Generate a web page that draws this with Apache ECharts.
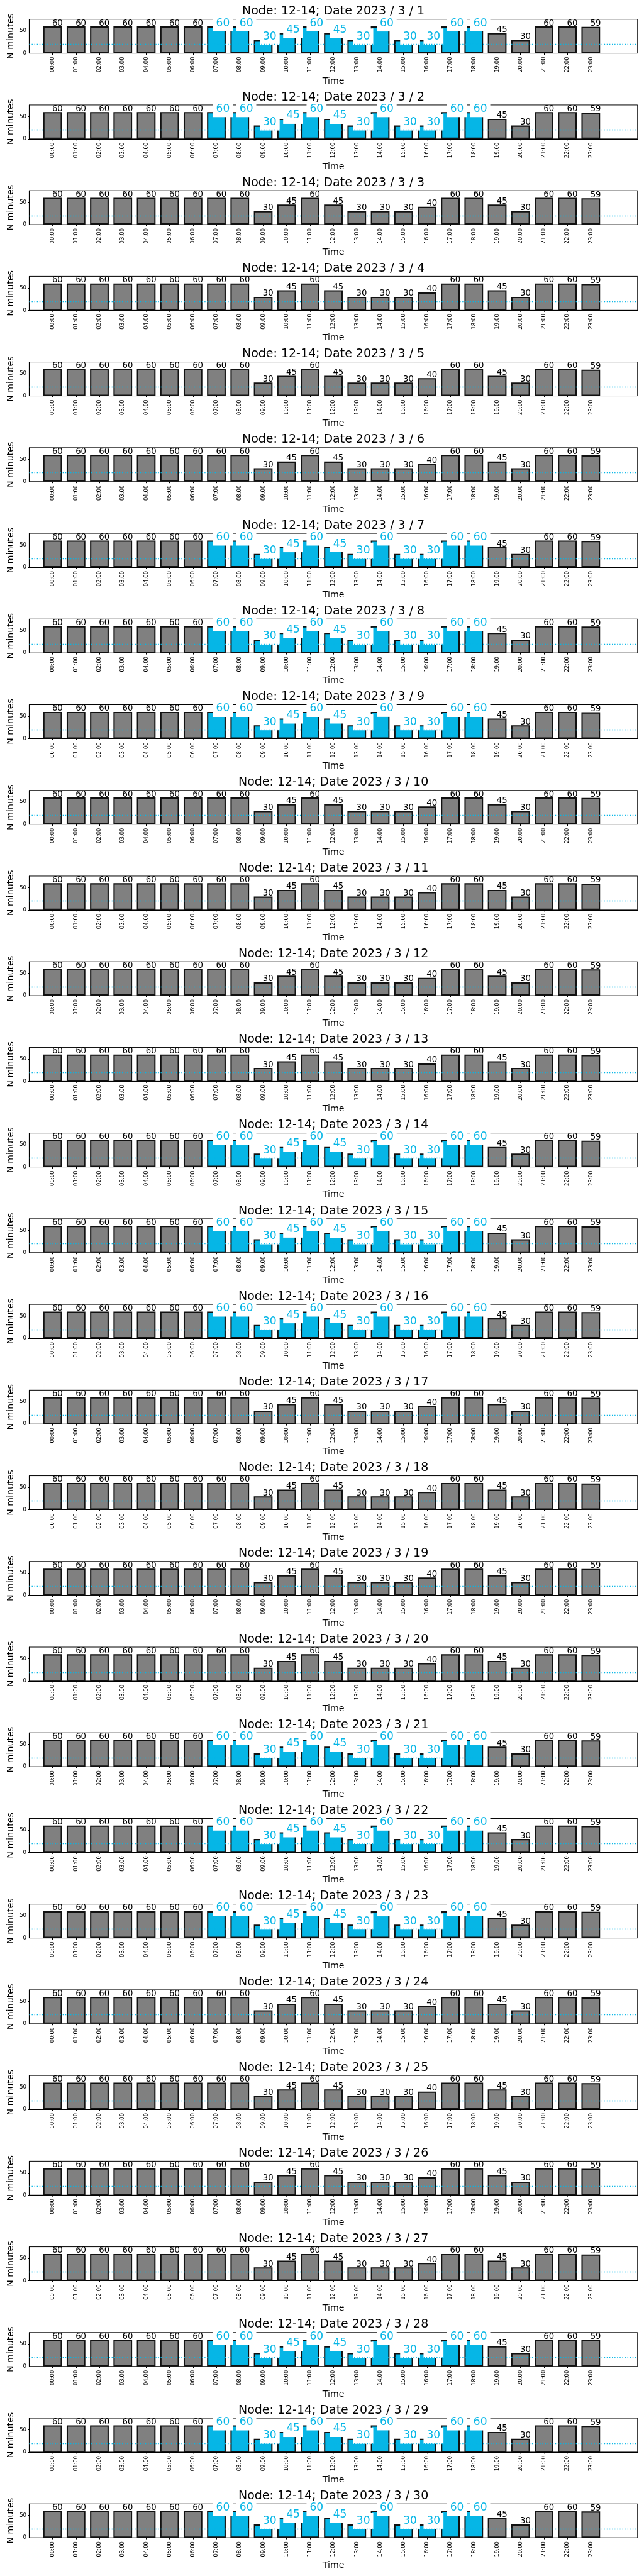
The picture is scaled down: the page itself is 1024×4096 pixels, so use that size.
<!DOCTYPE html>
<html><head><meta charset="utf-8">
<script src="https://cdn.jsdelivr.net/npm/echarts@6/dist/echarts.min.js"></script>
<style>html,body{margin:0;padding:0;background:#fff}#c{width:1024px;height:4096px}</style>
</head><body><div id="c"></div>
<script>
// ---------- data ----------
const node = '12-14';
const year = 2023, month = 3;
const days = [1,2,3,4,5,6,7,8,9,10,11,12,13,14,15,16,17,18,19,20,21,22,23,24,25,26,27,28,29,30];
const hours = ['00:00','01:00','02:00','03:00','04:00','05:00','06:00','07:00','08:00','09:00','10:00','11:00',
               '12:00','13:00','14:00','15:00','16:00','17:00','18:00','19:00','20:00','21:00','22:00','23:00'];
const highlightDays = [1,2,7,8,9,14,15,16,21,22,23,28,29,30];
const highlightFromHour = 7, highlightToHour = 18;
const threshold = 20;
const yTicks = [0, 50];
const yMax = 76;
// minutes per hour, one row per day (3/1 .. 3/30)
const minutesByDay = [
  [60,60,60,60,60,60,60,60,60,30,45,60,45,30,60,30,30,60,60,45,30,60,60,59], // 1
  [60,60,60,60,60,60,60,60,60,30,45,60,45,30,60,30,30,60,60,45,30,60,60,59], // 2
  [60,60,60,60,60,60,60,60,60,30,45,60,45,30,30,30,40,60,60,45,30,60,60,59], // 3
  [60,60,60,60,60,60,60,60,60,30,45,60,45,30,30,30,40,60,60,45,30,60,60,59], // 4
  [60,60,60,60,60,60,60,60,60,30,45,60,45,30,30,30,40,60,60,45,30,60,60,59], // 5
  [60,60,60,60,60,60,60,60,60,30,45,60,45,30,30,30,40,60,60,45,30,60,60,59], // 6
  [60,60,60,60,60,60,60,60,60,30,45,60,45,30,60,30,30,60,60,45,30,60,60,59], // 7
  [60,60,60,60,60,60,60,60,60,30,45,60,45,30,60,30,30,60,60,45,30,60,60,59], // 8
  [60,60,60,60,60,60,60,60,60,30,45,60,45,30,60,30,30,60,60,45,30,60,60,59], // 9
  [60,60,60,60,60,60,60,60,60,30,45,60,45,30,30,30,40,60,60,45,30,60,60,59], // 10
  [60,60,60,60,60,60,60,60,60,30,45,60,45,30,30,30,40,60,60,45,30,60,60,59], // 11
  [60,60,60,60,60,60,60,60,60,30,45,60,45,30,30,30,40,60,60,45,30,60,60,59], // 12
  [60,60,60,60,60,60,60,60,60,30,45,60,45,30,30,30,40,60,60,45,30,60,60,59], // 13
  [60,60,60,60,60,60,60,60,60,30,45,60,45,30,60,30,30,60,60,45,30,60,60,59], // 14
  [60,60,60,60,60,60,60,60,60,30,45,60,45,30,60,30,30,60,60,45,30,60,60,59], // 15
  [60,60,60,60,60,60,60,60,60,30,45,60,45,30,60,30,30,60,60,45,30,60,60,59], // 16
  [60,60,60,60,60,60,60,60,60,30,45,60,45,30,30,30,40,60,60,45,30,60,60,59], // 17
  [60,60,60,60,60,60,60,60,60,30,45,60,45,30,30,30,40,60,60,45,30,60,60,59], // 18
  [60,60,60,60,60,60,60,60,60,30,45,60,45,30,30,30,40,60,60,45,30,60,60,59], // 19
  [60,60,60,60,60,60,60,60,60,30,45,60,45,30,30,30,40,60,60,45,30,60,60,59], // 20
  [60,60,60,60,60,60,60,60,60,30,45,60,45,30,60,30,30,60,60,45,30,60,60,59], // 21
  [60,60,60,60,60,60,60,60,60,30,45,60,45,30,60,30,30,60,60,45,30,60,60,59], // 22
  [60,60,60,60,60,60,60,60,60,30,45,60,45,30,60,30,30,60,60,45,30,60,60,59], // 23
  [60,60,60,60,60,60,60,60,60,30,45,60,45,30,30,30,40,60,60,45,30,60,60,59], // 24
  [60,60,60,60,60,60,60,60,60,30,45,60,45,30,30,30,40,60,60,45,30,60,60,59], // 25
  [60,60,60,60,60,60,60,60,60,30,45,60,45,30,30,30,40,60,60,45,30,60,60,59], // 26
  [60,60,60,60,60,60,60,60,60,30,45,60,45,30,30,30,40,60,60,45,30,60,60,59], // 27
  [60,60,60,60,60,60,60,60,60,30,45,60,45,30,60,30,30,60,60,45,30,60,60,59], // 28
  [60,60,60,60,60,60,60,60,60,30,45,60,45,30,60,30,30,60,60,45,30,60,60,59], // 29
  [60,60,60,60,60,60,60,60,60,30,45,60,45,30,60,30,30,60,60,45,30,60,60,59]  // 30
];

// ---------- styling / layout ----------
const S = 1024 / 1500;
const FONT = 'DejaVu Sans';
const BLUE = '#06B6E6', GREY = '#808080', EDGE = '#111111';
const axLeft = 68 * S, axRight = (1500 - 1485) * S;
const top0 = 45 * S, pitch = 199.55 * S, axH = 79 * S;
const axCenterX = (68 + 1485) / 2 * S;

// category slots: one empty slot before 00:00, two after 23:00
const xCats = [''].concat(hours, ['', '']);
const isHour = (i) => i >= 1 && i <= hours.length;

const greyLabel = {
  show: true, position: ['50%', 0], align: 'left', verticalAlign: 'bottom',
  offset: [-1 * S, 1.5], color: '#000', fontSize: 19.4 * S, fontFamily: FONT
};
const blueLabel = {
  show: true, position: ['50%', 0], align: 'left', verticalAlign: 'bottom',
  offset: [-8 * S, 8], color: BLUE, fontSize: 25 * S, fontFamily: FONT,
  backgroundColor: '#ffffff', padding: [4.5, 5, 4.5, 5]
};

const grids = [], xAxes = [], yAxes = [], series = [], graphics = [];
days.forEach((d, k) => {
  const top = top0 + k * pitch;
  const hl = highlightDays.includes(d);
  grids.push({
    left: axLeft, right: axRight, top: top, height: axH,
    show: true, borderColor: '#000', borderWidth: 1, backgroundColor: 'transparent',
    containLabel: false, outerBoundsMode: 'none'
  });
  xAxes.push({
    type: 'category', gridIndex: k, data: xCats, boundaryGap: false,
    axisLine: { show: true, lineStyle: { color: '#000', width: 1 } },
    axisTick: { show: true, inside: false, length: 3.5 * S, interval: (i) => isHour(i),
                lineStyle: { color: '#000', width: 1 } },
    axisLabel: { show: true, interval: (i) => isHour(i), rotate: 90, margin: 8.5 * S,
                 fontSize: 12.5 * S, fontFamily: FONT, color: '#000' },
    splitLine: { show: false }
  });
  yAxes.push({
    type: 'value', gridIndex: k, min: 0, max: yMax,
    axisLine: { show: true, lineStyle: { color: '#000', width: 1 } },
    axisTick: { show: true, length: 3.5 * S, customValues: yTicks, lineStyle: { color: '#000', width: 1 } },
    axisLabel: { show: true, customValues: yTicks, margin: 6.5 * S, fontSize: 12.5 * S,
                 fontFamily: FONT, color: '#000' },
    splitLine: { show: false }
  });
  const vals = minutesByDay[k];
  const data = ['-'].concat(vals.map((v, h) => {
    const blue = hl && h >= highlightFromHour && h <= highlightToHour;
    return {
      value: v,
      itemStyle: { color: blue ? BLUE : GREY, borderColor: EDGE, borderWidth: 3 * S },
      label: blue ? blueLabel : greyLabel
    };
  }), ['-', '-']);
  series.push({
    type: 'bar', xAxisIndex: k, yAxisIndex: k, barWidth: '80%', animation: false,
    data: data,
    markLine: {
      silent: true, symbol: 'none', animation: false,
      label: { show: false },
      lineStyle: { color: BLUE, type: [1.4, 2.7], width: 1.4 },
      data: [{ yAxis: threshold }]
    }
  });
  // title
  graphics.push({
    type: 'text', x: axCenterX, y: top - 21.8, z: 100,
    style: { text: 'Node: ' + node + '; Date ' + year + ' / ' + month + ' / ' + d,
             fontSize: 27.8 * S, fontFamily: FONT, fill: '#000', align: 'center', verticalAlign: 'top' }
  });
  // y axis name
  graphics.push({
    type: 'text', x: 17.6, y: top + axH / 2, rotation: Math.PI / 2, z: 100,
    style: { text: 'N minutes', fontSize: 20.8 * S, fontFamily: FONT, fill: '#000',
             align: 'center', verticalAlign: 'middle' }
  });
  // x axis name
  graphics.push({
    type: 'text', x: axCenterX, y: top + axH + 37.2, z: 100,
    style: { text: 'Time', fontSize: 20.8 * S, fontFamily: FONT, fill: '#000',
             align: 'center', verticalAlign: 'top' }
  });
});

const chart = echarts.init(document.getElementById('c'), null, { renderer: 'canvas' });
chart.setOption({
  animation: false,
  backgroundColor: '#ffffff',
  grid: grids, xAxis: xAxes, yAxis: yAxes, series: series,
  graphic: graphics
});
</script></body></html>
